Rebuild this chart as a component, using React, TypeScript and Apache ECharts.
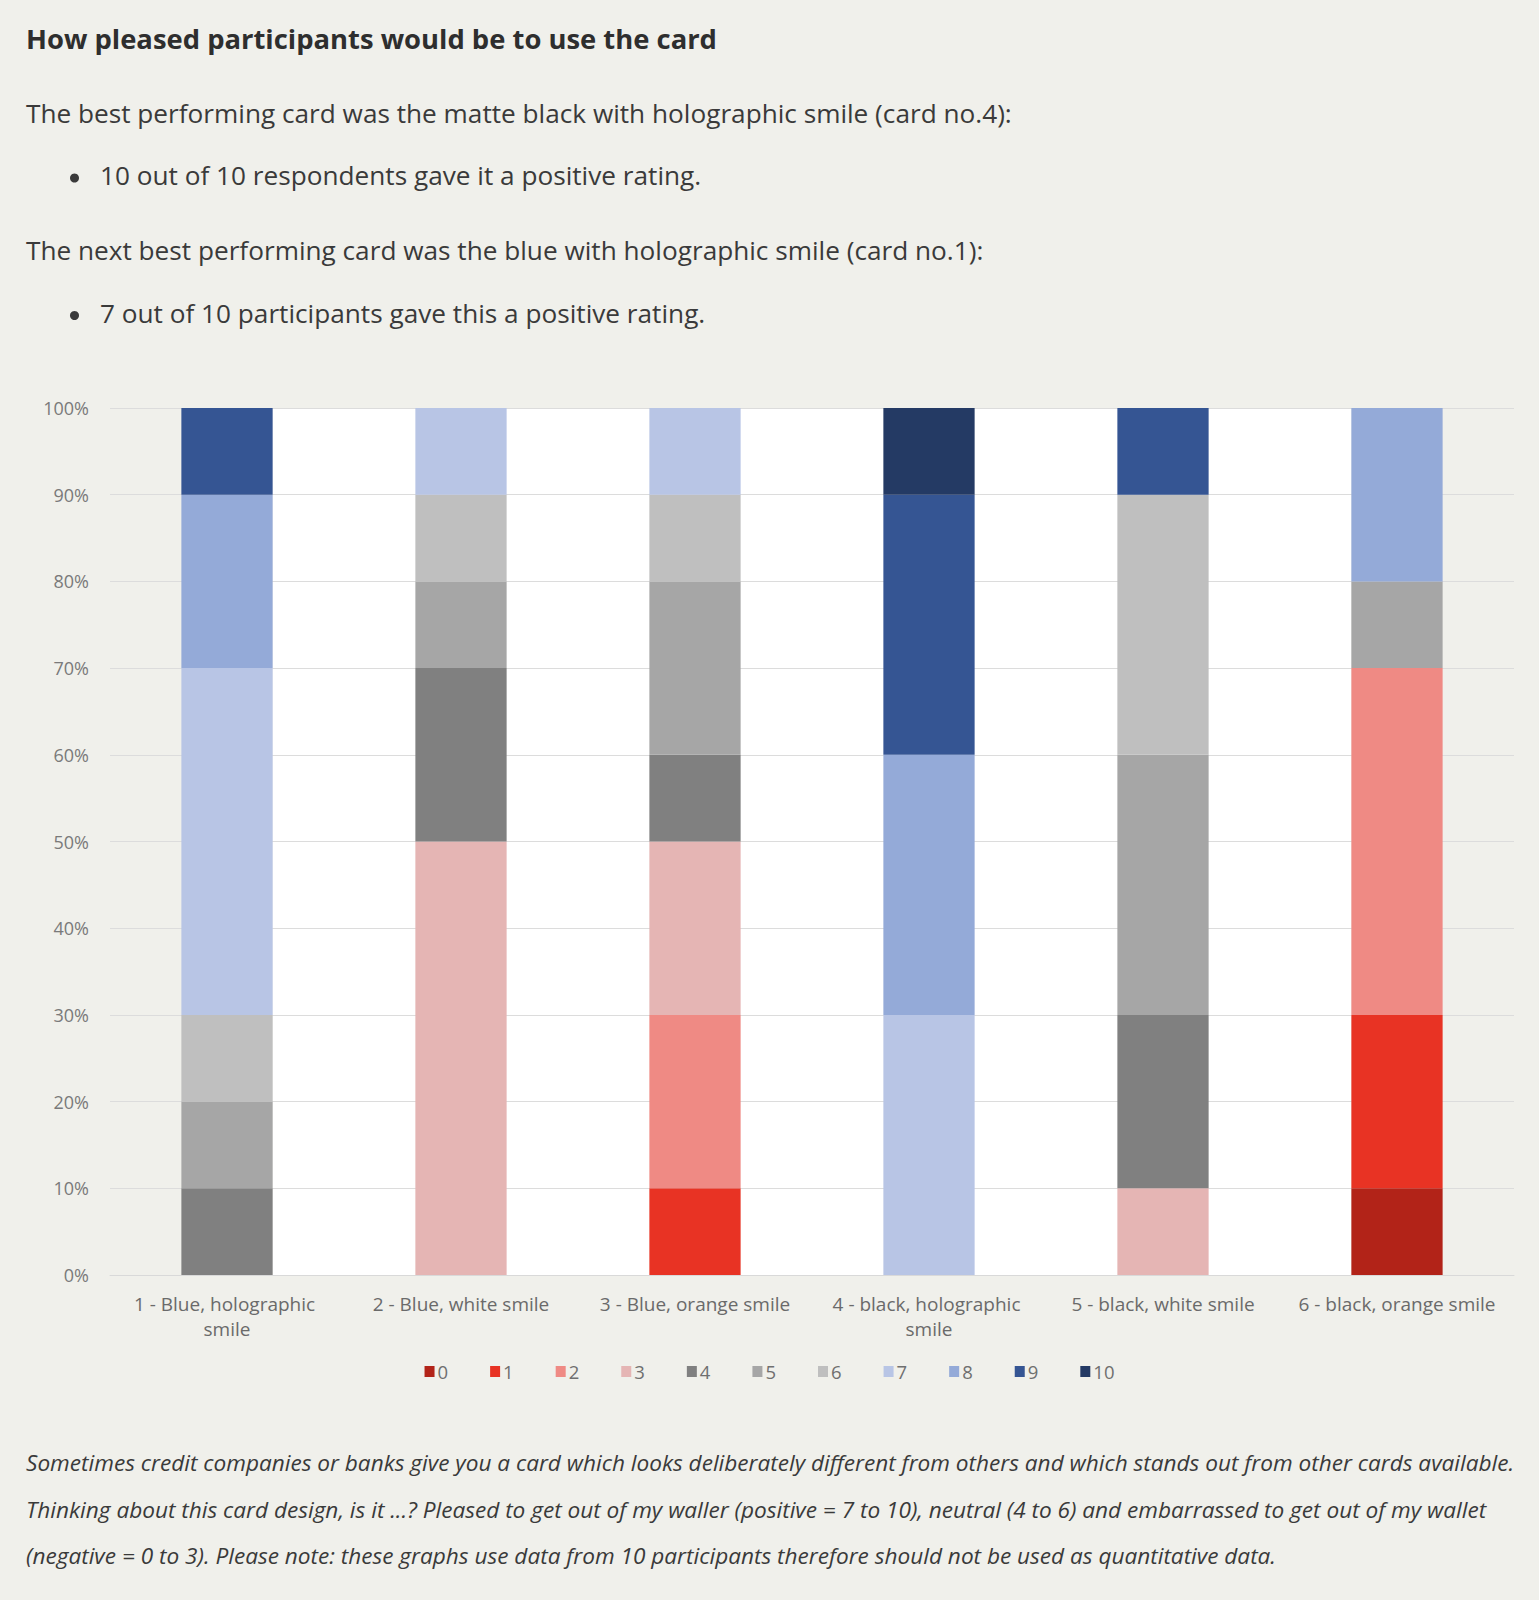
import React, { useEffect, useRef } from "react";
import * as echarts from "echarts";

const categories = [
  "1 - Blue, holographic smile",
  "2 - Blue, white smile",
  "3 - Blue, orange smile",
  "4 - black, holographic smile",
  "5 - black, white smile",
  "6 - black, orange smile",
];

const ratingNames = ["0", "1", "2", "3", "4", "5", "6", "7", "8", "9", "10"];

const ratingColors = [
  "#b22318",
  "#e83324",
  "#ef8a84",
  "#e5b5b4",
  "#808080",
  "#a6a6a6",
  "#bfbfbf",
  "#b8c5e5",
  "#94aad8",
  "#355593",
  "#243a64",
];

// percentage of participants giving each rating, per card
const rating0 = [0, 0, 0, 0, 0, 10];
const rating1 = [0, 0, 10, 0, 0, 20];
const rating2 = [0, 0, 20, 0, 0, 40];
const rating3 = [0, 50, 20, 0, 10, 0];
const rating4 = [10, 20, 10, 0, 20, 0];
const rating5 = [10, 10, 20, 0, 30, 10];
const rating6 = [10, 10, 10, 0, 30, 0];
const rating7 = [40, 10, 10, 30, 0, 0];
const rating8 = [20, 0, 0, 30, 0, 20];
const rating9 = [10, 0, 0, 30, 10, 0];
const rating10 = [0, 0, 0, 10, 0, 0];

const ratingValues = [
  rating0, rating1, rating2, rating3, rating4, rating5,
  rating6, rating7, rating8, rating9, rating10,
];

const titleText = "How pleased participants would be to use the card";
const para1 = "The best performing card was the matte black with holographic smile (card no.4):";
const bullet1 = "10 out of 10 respondents gave it a positive rating.";
const para2 = "The next best performing card was the blue with holographic smile (card no.1):";
const bullet2 = "7 out of 10 participants gave this a positive rating.";
const note1 = "Sometimes credit companies or banks give you a card which looks deliberately different from others and which stands out from other cards available.";
const note2 = "Thinking about this card design, is it ...? Pleased to get out of my waller (positive = 7 to 10), neutral (4 to 6) and embarrassed to get out of my wallet";
const note3 = "(negative = 0 to 3). Please note: these graphs use data from 10 participants therefore should not be used as quantitative data.";

const FONT = '"Open Sans", Lato, sans-serif';
const BG = "#f0f0eb";
const BAR_WIDTH_PCT = 0.39;

export default function App() {
  const ref = useRef<HTMLDivElement>(null);

  useEffect(() => {
    document.body.style.margin = "0";
    document.body.style.background = BG;
    const chart = echarts.init(ref.current as HTMLDivElement, null, { renderer: "svg" });

    const textStyle = (size: number, weight: string | number = "normal", style = "normal", color = "#333333") => ({
      fontFamily: FONT,
      fontSize: size,
      fontWeight: weight,
      fontStyle: style,
      fill: color,
      textVerticalAlign: "middle",
    });

    const bodyColor = "#3a3a3a";
    const texts: any[] = [
      { type: "text", left: 26, top: 25, style: { text: titleText, ...textStyle(27.4, "bold", "normal", "#2e2e2e") } },
      { type: "text", left: 26, top: 100, style: { text: para1, ...textStyle(26.2, "normal", "normal", bodyColor) } },
      { type: "circle", shape: { cx: 74.5, cy: 178, r: 4.5 }, style: { fill: bodyColor } },
      { type: "text", left: 100, top: 162, style: { text: bullet1, ...textStyle(26.2, "normal", "normal", bodyColor) } },
      { type: "text", left: 26, top: 237, style: { text: para2, ...textStyle(26.2, "normal", "normal", bodyColor) } },
      { type: "circle", shape: { cx: 74.5, cy: 315.5, r: 4.5 }, style: { fill: bodyColor } },
      { type: "text", left: 100, top: 300, style: { text: bullet2, ...textStyle(26.2, "normal", "normal", bodyColor) } },
      { type: "text", left: 26, top: 1451, style: { text: note1, ...textStyle(22.6, "normal", "italic", bodyColor) } },
      { type: "text", left: 26, top: 1498, style: { text: note2, ...textStyle(22.6, "normal", "italic", bodyColor) } },
      { type: "text", left: 26, top: 1544, style: { text: note3, ...textStyle(22.6, "normal", "italic", bodyColor) } },
    ];

    const option: any = {
      animation: false,
      backgroundColor: BG,
      textStyle: { fontFamily: FONT },
      grid: { left: 110, right: 25, top: 408, bottom: 325, containLabel: false },
      legend: {
        data: ratingNames,
        top: 1357,
        left: "center",
        icon: "rect",
        itemWidth: 10,
        itemHeight: 11,
        itemGap: 42,
        textStyle: { color: "#6f6f6f", fontSize: 18.5, fontFamily: FONT, padding: [0, 0, 0, -2] },
      },
      xAxis: {
        type: "category",
        data: categories,
        axisLine: { show: true, lineStyle: { color: "#d9d9d9", width: 1 } },
        axisTick: { show: false },
        axisLabel: {
          color: "#6a6a6a",
          fontSize: 19,
          fontFamily: FONT,
          interval: 0,
          margin: 16,
          width: 222,
          overflow: "break",
          lineHeight: 25,
        },
      },
      yAxis: {
        type: "value",
        min: 0,
        max: 100,
        interval: 10,
        axisLine: { show: false },
        axisTick: { show: false },
        axisLabel: { formatter: "{value}%", color: "#7a7a7a", fontSize: 18, fontFamily: FONT, margin: 21 },
        splitLine: { show: true, lineStyle: { color: "#dcdcdc", width: 1 } },
      },
      series: ratingNames.map((name, i) => ({
        name,
        type: "bar",
        stack: "total",
        barWidth: BAR_WIDTH_PCT * 100 + "%",
        itemStyle: { color: ratingColors[i] },
        emphasis: { disabled: true },
        data: ratingValues[i],
      })),
      graphic: { elements: texts },
    };

    chart.setOption(option);

    const xFirst = chart.convertToPixel({ xAxisIndex: 0 }, 0) as number;
    const xLast = chart.convertToPixel({ xAxisIndex: 0 }, categories.length - 1) as number;
    const band = (xLast - xFirst) / (categories.length - 1);
    const half = (band * BAR_WIDTH_PCT) / 2;
    const yTop = chart.convertToPixel({ yAxisIndex: 0 }, 100) as number;
    const yBottom = chart.convertToPixel({ yAxisIndex: 0 }, 0) as number;

    chart.setOption({
      graphic: {
        elements: [
          ...texts,
          {
            type: "rect",
            id: "whiteBand",
            z: -1,
            shape: { x: xFirst + half, y: yTop, width: xLast - xFirst - 2 * half, height: yBottom - yTop },
            style: { fill: "#ffffff" },
            silent: true,
          },
        ],
      },
    });

    return () => chart.dispose();
  }, []);

  return <div ref={ref} style={{ width: 1539, height: 1600 }} />;
}
